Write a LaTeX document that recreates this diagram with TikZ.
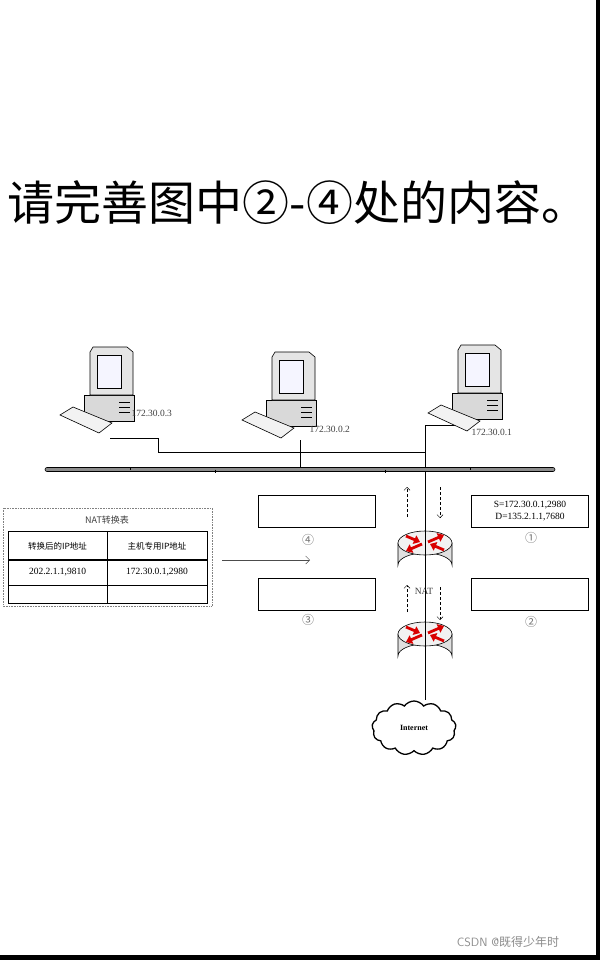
\documentclass[tikz,border=0pt]{standalone}
\usepackage{fontspec}
\setmainfont{Liberation Serif}
\newfontfamily\cjk{Noto Sans CJK SC}
\usetikzlibrary{shapes.symbols,arrows.meta}
\begin{document}
\begin{tikzpicture}[x=1pt,y=-1pt,
  box/.style={draw,line width=0.6pt,minimum width=117pt,minimum height=32pt,inner sep=0pt},
  lbl/.style={font=\fontsize{9.5}{10}\selectfont,text=black!75},
  num/.style={font=\cjk\fontsize{12}{12}\selectfont,text=black!55},
  dsh/.style={densely dashed,line width=0.5pt,-{Straight Barb[length=3pt]}},
  pc/.pic={
    \fill[black!15,draw=black,line width=0.6pt] (-26,0) -- (24,0) -- (24,26) -- (-26,26) -- cycle;
    \fill[black!10,draw=black,line width=0.6pt] (-17,-48) -- (17,-48) -- (23,-43) -- (23,0) -- (-20,0) -- (-20,-43) -- cycle;
    \fill[blue!4,draw=black,line width=0.5pt] (-13,-40) rectangle (11,-7);
    \draw[line width=0.4pt] (9,7) -- (20,7) (9,12) -- (20,12) (9,17) -- (20,17);
    \fill[black!5,draw=black,line width=0.6pt] (-50,20) -- (-37,12) -- (2,28) -- (-11,38) -- cycle;
  },
  router/.pic={
    \fill[black!12,draw=black,line width=0.6pt] (-27,0) -- (-27,22) arc[start angle=180,end angle=360,x radius=27,y radius=12] -- (27,0) -- cycle;
    \fill[black!5,draw=black,line width=0.6pt] (0,0) ellipse[x radius=27,y radius=12];
    \draw[red!85!black,line width=2.8pt,-{Triangle[length=6pt,width=9pt]}] (-3,1) -- (-19,8);
    \draw[red!85!black,line width=2.8pt,-{Triangle[length=6pt,width=9pt]}] (3,-1) -- (19,-8);
    \draw[red!85!black,line width=2.8pt,-{Triangle[length=6pt,width=9pt]}] (-19,-7) -- (-5,-1);
    \draw[red!85!black,line width=2.8pt,-{Triangle[length=6pt,width=9pt]}] (19,7) -- (5,1);
  }]
\useasboundingbox (0,0) rectangle (600,960);
\fill[white] (0,0) rectangle (600,960);
\fill[black] (596,0) rectangle (600,960);
\fill[black] (0,955) rectangle (600,960);

\node (title) at (298,203) {\cjk\fontsize{47}{50}\selectfont 请完善图中②-④处的内容。};

% wires
\coordinate (j3) at (158,438);
\coordinate (j3b) at (158,452);
\coordinate (jm) at (425,452);
\coordinate (j1) at (425,425);
\draw[line width=0.5pt] (110,438) -- (j3) -- (j3b) -- (jm);
\draw[line width=0.6pt] (300,440) -- (300,470);
\draw[line width=0.5pt] (455,425) -- (j1) -- (425,700);

% pcs
\pic at (110,395) {pc};
\pic at (292,400) {pc};
\pic at (478,393) {pc};
\node[lbl,anchor=west] (ip3) at (128,413) {172.30.0.3};
\node[lbl,anchor=west] (ip2) at (306,429) {172.30.0.2};
\node[lbl,anchor=west] (ip1) at (468,432) {172.30.0.1};

% bus
\draw[line width=0.6pt,fill=black!45,rounded corners=2pt] (45,467.5) rectangle (555,471.5);
\foreach \x/\d in {130/-1,215/1,385/1,470/-1} \draw[line width=0.4pt] (\x,469.5) -- (\x,469.5+3*\d);

% boxes
\node[box] (b4) at (316.5,511) {};
\node[box,align=center,font=\fontsize{9.5}{11.5}\selectfont] (b1) at (530,511) {S=172.30.0.1,2980\\D=135.2.1.1,7680};
\node[box] (b3) at (316.5,594) {};
\node[box] (b2) at (530,594) {};
\node[num] (n4) at (308,540) {④};
\node[num] (n1) at (531,538) {①};
\node[num] (n3) at (308,620) {③};
\node[num] (n2) at (531,622) {②};

% dashed arrows
\coordinate (a1s) at (407,517); \coordinate (a1e) at (407,487);
\coordinate (a2s) at (440,487); \coordinate (a2e) at (440,518);
\coordinate (a3s) at (407,612); \coordinate (a3e) at (407,585);
\coordinate (a4s) at (440,587); \coordinate (a4e) at (440,620);
\draw[dsh] (a1s) -- (a1e);
\draw[dsh] (a2s) -- (a2e);
\draw[dsh] (a3s) -- (a3e);
\draw[dsh] (a4s) -- (a4e);
\node[lbl] (nat) at (424,591) {NAT};

% routers
\pic at (425,543) {router};
\pic at (425,634) {router};
\draw[line width=0.5pt] (425,530) -- (425,700);

% cloud
\node[cloud,draw,line width=1.3pt,fill=white,cloud puffs=13,cloud puff arc=110,aspect=1.6,minimum width=84pt,minimum height=54pt,inner sep=0pt,font=\fontsize{8}{9}\selectfont\bfseries] (inet) at (414,728) {Internet};

% NAT table
\draw[densely dotted,black!50,line width=0.6pt] (3,508) rectangle (212,606);
\node[font=\cjk\fontsize{9}{10}\selectfont,text=black!75] (tt) at (107,520) {NAT转换表};
\draw[line width=0.8pt] (8,531) rectangle (207,603);
\draw[line width=1.2pt] (8,560) -- (207,560);
\draw[line width=0.8pt] (8,585) -- (207,585);
\draw[line width=0.8pt] (107,531) -- (107,603);
\node[font=\cjk\fontsize{8.5}{10}\selectfont] (h1) at (57.5,546) {转换后的IP地址};
\node[font=\cjk\fontsize{8.5}{10}\selectfont] (h2) at (157,546) {主机专用IP地址};
\node[font=\fontsize{9.5}{10}\selectfont] (c1) at (57.5,572) {202.2.1.1,9810};
\node[font=\fontsize{9.5}{10}\selectfont] (c2) at (157,572) {172.30.0.1,2980};
\coordinate (arS) at (222,560); \coordinate (arE) at (310,560);
\draw[line width=0.5pt,-{Straight Barb[length=4pt]},black!70] (arS) -- (arE);

\node[font=\fontsize{12}{12}\selectfont\sffamily,text=black!45] (wm) at (508,942) {CSDN @\cjk 既得少年时};
\end{tikzpicture}
\end{document}
